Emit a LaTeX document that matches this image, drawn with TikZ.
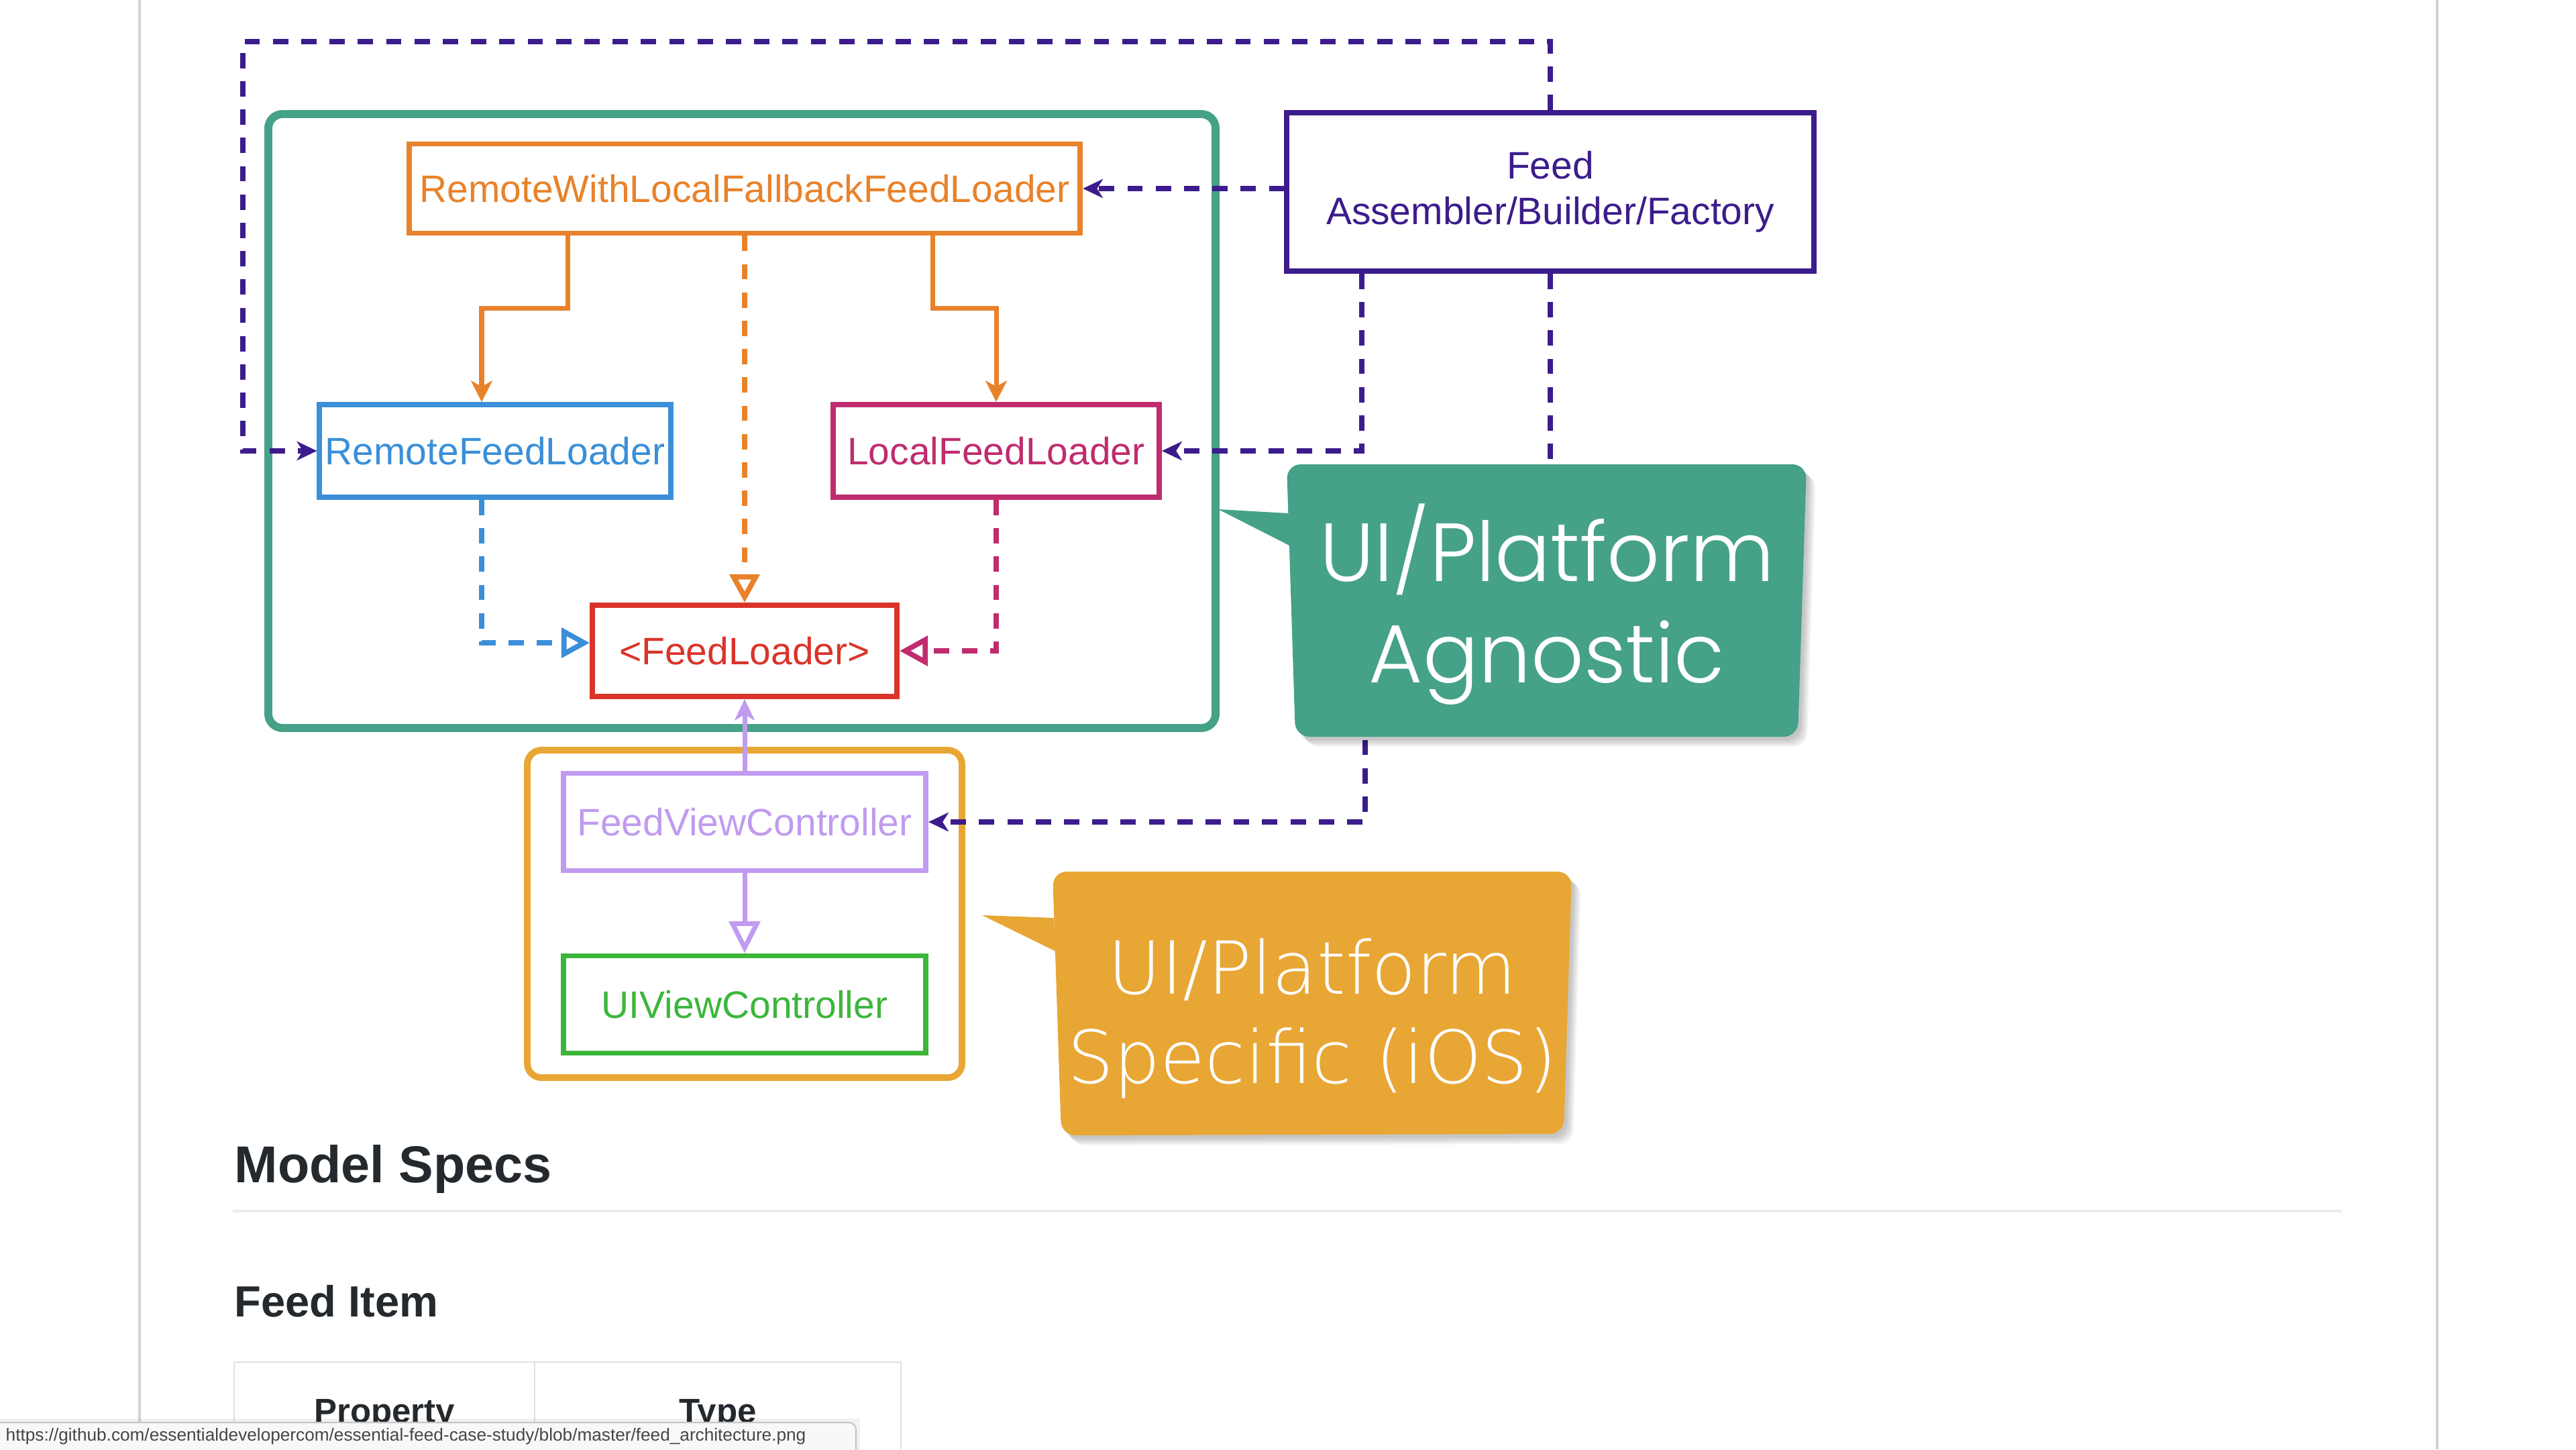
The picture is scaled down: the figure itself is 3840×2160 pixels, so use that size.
\documentclass[tikz,border=0pt]{standalone}
\usepackage{fontspec}
\setmainfont{Liberation Sans}
\IfFontExistsTF{Poppins Light}{\newfontfamily\greenfont{Poppins Light}}{\newfontfamily\greenfont{Poppins}}
\IfFontExistsTF{DejaVu Sans ExtraLight}{\newfontfamily\iosfont{DejaVu Sans ExtraLight}}{\newfontfamily\iosfont{DejaVu Sans}}
\usetikzlibrary{arrows.meta}
\definecolor{cPurple}{RGB}{60,28,140}
\definecolor{cOrange}{RGB}{232,130,42}
\definecolor{cBlue}{RGB}{58,143,216}
\definecolor{cMag}{RGB}{192,44,110}
\definecolor{cRed}{RGB}{218,52,42}
\definecolor{cLav}{RGB}{192,155,240}
\definecolor{cGreen}{RGB}{60,182,58}
\definecolor{cTeal}{RGB}{69,161,135}
\definecolor{cGold}{RGB}{232,166,52}
\definecolor{cText}{RGB}{36,41,46}
\definecolor{cRule}{RGB}{234,236,239}
\definecolor{cBorder}{RGB}{223,226,229}
\definecolor{cPage}{RGB}{210,210,210}
\definecolor{cBar}{RGB}{248,248,248}
\definecolor{cUrl}{RGB}{70,70,70}
\begin{document}
\begin{tikzpicture}[x=0.01cm, y=-0.01cm,
  box/.style={draw, line width=2.2pt, fill=white, inner sep=0pt, align=center, font=\fontsize{16.2}{19.4}\selectfont},
  dsh/.style={line width=2.2pt, dash pattern=on 6.5pt off 5.5pt},
  pdash/.style={dsh, draw=cPurple},
  fhead/.style={-{Stealth[length=8.5pt,width=8pt,inset=2.5pt]}},
  ohead/.style={-{Triangle[open,length=12pt,width=12.5pt]}},
  solidc/.style={line width=2pt},
  agnpath/.style={insert path={(1918,692) -- (2693,692) -- (2680,1098) -- (1931,1098) -- cycle}},
  agntail/.style={insert path={(1921,765) -- (1816,759) -- (1926,815) -- cycle}},
  iospath/.style={insert path={(1569,1299) -- (2343,1299) -- (2331,1690) -- (1582,1692) -- cycle}},
  iostail/.style={insert path={(1571,1368) -- (1464,1364) -- (1574,1418) -- cycle}},
  heading/.style={anchor=base west, inner sep=0pt, text=cText, font=\bfseries},
]
\useasboundingbox (0,0) rectangle (3840,2160);
\fill[white] (0,0) rectangle (3840,2160);

% page frame
\draw[cPage, line width=0.9pt] (208,0) -- (208,2160);
\draw[cPage, line width=0.9pt] (3633,0) -- (3633,2160);

% containers
\draw[cTeal, line width=3.4pt, rounded corners=6pt] (400,170) rectangle (1812,1085);
\draw[cGold, line width=2.8pt, rounded corners=6pt] (786,1118) rectangle (1434,1606);

% nodes
\node[box, draw=cOrange, text=cOrange, minimum width=10.0cm, minimum height=1.33cm] (rwlf) at (1110,281) {RemoteWithLocalFallbackFeedLoader};
\node[box, draw=cPurple, text=cPurple, minimum width=7.85cm, minimum height=2.36cm] (feed) at (2311,286) {Feed\\Assembler/Builder/Factory};
\node[box, draw=cBlue, text=cBlue, minimum width=5.23cm, minimum height=1.38cm] (rfl) at (738,672) {RemoteFeedLoader};
\node[box, draw=cMag, text=cMag, minimum width=4.86cm, minimum height=1.38cm] (lfl) at (1485,672) {LocalFeedLoader};
\node[box, draw=cRed, text=cRed, minimum width=4.54cm, minimum height=1.36cm] (fl) at (1110,970) {<FeedLoader>};
\node[box, draw=cLav, text=cLav, minimum width=5.4cm, minimum height=1.45cm] (fvc) at (1110,1225) {FeedViewController};
\node[box, draw=cGreen, text=cGreen, minimum width=5.4cm, minimum height=1.45cm] (uivc) at (1110,1497) {UIViewController};

\coordinate (tl) at (362,62);
\coordinate (bend) at (2035,950);

% orange connectors
\draw[solidc, cOrange, -{Stealth[length=9pt,width=9pt,inset=2.5pt]}] ([xshift=-2.63cm]rwlf.south) -- ++(0,108) -| ([xshift=-0.2cm]rfl.north);
\draw[solidc, cOrange, -{Stealth[length=9pt,width=9pt,inset=2.5pt]}] ([xshift=2.8cm]rwlf.south) -- ++(0,108) -| (lfl.north);
\draw[dsh, cOrange, ohead] (rwlf.south) -- (fl.north);
% blue / magenta realisations
\draw[dsh, cBlue, ohead] ([xshift=-0.2cm]rfl.south) |- ([yshift=0.12cm]fl.west);
\draw[dsh, cMag, ohead] (lfl.south) |- (fl.east);
% lavender
\draw[solidc, cLav, -{Stealth[length=9pt,width=8.5pt,inset=2.5pt]}] (fvc.north) -- (fl.south);
\draw[solidc, cLav, -{Triangle[open,length=13.5pt,width=13pt]}] (fvc.south) -- (uivc.north);

% purple composition lines
\draw[pdash, fhead] (feed.west |- rwlf.east) -- (rwlf.east);
\draw[pdash, fhead] ([xshift=-2.81cm]feed.south) |- (lfl.east);
\draw[pdash, fhead] (feed.north) |- (tl) |- (rfl.west);
\draw[pdash, fhead] (feed.south) |- (bend) |- (fvc.east);

% green callout
\foreach \k in {1,...,6} {
  \fill[black, opacity=0.04, rounded corners=6pt, shift={(2*\k+2,2*\k+3)}, agnpath];
}
\fill[cTeal, rounded corners=6pt, agnpath];
\fill[cTeal, agntail];
\node[anchor=base, align=center, text=white, inner sep=0pt, font=\greenfont\fontsize{35}{42.7}\selectfont] (agn) at (2306,1017) {UI/Platform\\Agnostic};

% orange callout
\foreach \k in {1,...,6} {
  \fill[black, opacity=0.04, rounded corners=6pt, shift={(2*\k+2,2*\k+3)}, iospath];
}
\fill[cGold, rounded corners=6pt, iospath];
\fill[cGold, iostail];
\node[anchor=base, align=center, text=white, inner sep=0pt, font=\iosfont\fontsize{31}{37.6}\selectfont] (ios) at (1956,1614) {UI/Platform\\Specific (iOS)};

% page text below
\node[heading, font=\bfseries\fontsize{22}{26}\selectfont] (ms) at (349,1762) {Model Specs};
\draw[cRule, line width=1.2pt] (347,1805) -- (3491,1805);
\node[heading, font=\bfseries\fontsize{18.5}{22}\selectfont] (fi) at (349,1962) {Feed Item};
\draw[cBorder, line width=0.8pt] (349,2160) |- (1343,2030) -- (1343,2160);
\draw[cBorder, line width=0.8pt] (797,2030) -- (797,2160);
\node[anchor=base, inner sep=0pt, text=cText, font=\bfseries\fontsize{14.5}{17}\selectfont] (prop) at (573,2120) {Property};
\node[anchor=base, inner sep=0pt, text=cText, font=\bfseries\fontsize{14.5}{17}\selectfont] (type) at (1070,2120) {Type};

% status bar
\fill[black, opacity=0.05] (-10,2114) -- (1282,2114) -- (1282,2170) -- (-10,2170) -- cycle;
\path[fill=cBar, draw=gray!45, line width=0.6pt, rounded corners=3pt] (-10,2170) -- (-10,2120) -- (1276,2120) -- (1276,2170);
\node[anchor=west, inner sep=0pt, text=cUrl, font=\fontsize{7.45}{8.5}\selectfont] (url) at (8,2141) {https://github.com/essentialdevelopercom/essential-feed-case-study/blob/master/feed\_architecture.png};
\end{tikzpicture}
\end{document}
